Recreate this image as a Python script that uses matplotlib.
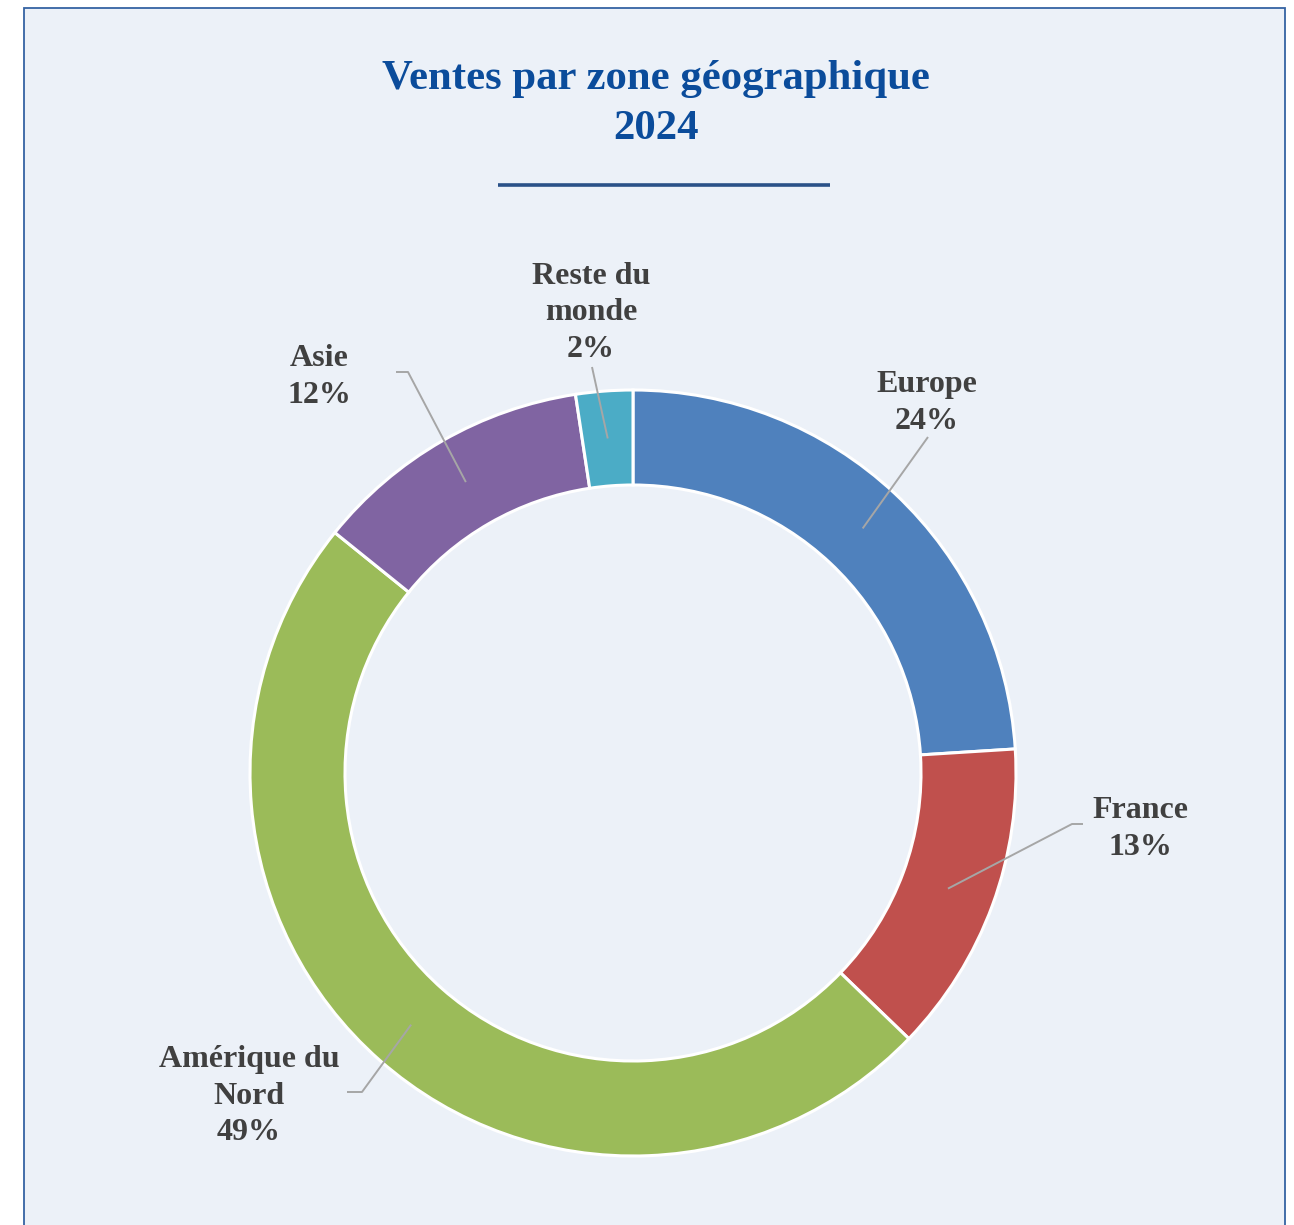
import numpy as np
import matplotlib.pyplot as plt
from matplotlib.patches import Rectangle

# canvas size in pixels (dpi 100)
W, H = 1294, 1225

# ---------------------------- data ---------------------------------------- #
zones = ['Europe', 'France', 'Amérique du\nNord', 'Asie', 'Reste du\nmonde']
parts = [24.0, 13.2, 48.6, 11.8, 2.4]
pct_labels = ['24%', '13%', '49%', '12%', '2%']
colors = ['#4F81BD', '#C0504D', '#9BBB59', '#8064A2', '#4BACC6']

# ---------------------------- layout (pixels, y from top) ------------------ #
center = (633, 773)
radius = 383
ring = 95
label_xy = [(927, 403), (1140, 829), (249, 1096), (319, 377), (591, 313)]
leader_end = [(928, 437), (1072, 824), (362, 1092), (408, 372), (592, 367)]
leader_tail = [None, (1083, 824), (347, 1092), (396, 372), None]

TXT = '#404040'
LEAD = '#A6A6A6'
SERIF = ['Liberation Serif', 'DejaVu Serif']


def fy(py):
    # pixel row -> data y
    return H - py


fig = plt.figure(figsize=(W / 100, H / 100), dpi=100)
fig.patch.set_facecolor('white')
ax = fig.add_axes([0, 0, 1, 1])

# panel background + border
ax.add_patch(Rectangle((24, -20), 1261, H - 8 + 20, facecolor='#ECF1F8',
                       edgecolor='#3563A3', linewidth=1.3, zorder=0))

cx, cy = center[0], fy(center[1])
wedges, _ = ax.pie(parts, colors=colors, startangle=90, counterclock=False,
                   center=(cx, cy), radius=radius, frame=True,
                   wedgeprops=dict(width=ring, edgecolor='white',
                                   linewidth=2.2))

r_mid = radius - ring / 2
for w, zone, pct, lxy, lend, tail in zip(wedges, zones, pct_labels,
                                         label_xy, leader_end, leader_tail):
    mid = np.deg2rad((w.theta1 + w.theta2) / 2)
    sx, sy = cx + r_mid * np.cos(mid), cy + r_mid * np.sin(mid)
    xs, ys = [sx, lend[0]], [sy, fy(lend[1])]
    if tail is not None:
        xs.append(tail[0])
        ys.append(fy(tail[1]))
    ax.plot(xs, ys, color=LEAD, lw=1.4, zorder=5, solid_capstyle='butt')
    ax.text(lxy[0], fy(lxy[1]), zone + '\n' + pct, ha='center', va='center',
            fontsize=23, fontweight='bold', family=SERIF, color=TXT,
            linespacing=1.36, zorder=6)

# title + rule
ax.text(656, fy(104), 'Ventes par zone géographique\n2024', ha='center',
        va='center', fontsize=30.8, fontweight='bold', family=SERIF,
        color='#0B4C9B', linespacing=1.4)
ax.plot([498, 830], [fy(185), fy(185)], color='#2A5188', lw=2.6,
        solid_capstyle='butt')

ax.set_xlim(0, W)
ax.set_ylim(0, H)
ax.set_aspect('equal')
ax.axis('off')

fig.savefig('out.png', dpi=100, facecolor=fig.get_facecolor())
